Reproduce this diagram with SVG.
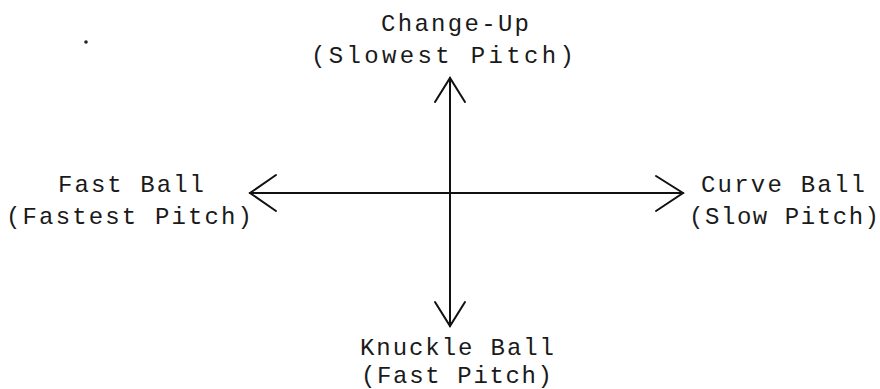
<svg xmlns="http://www.w3.org/2000/svg" width="880" height="389" viewBox="0 0 880 389">
<style>
.t{font-family:"Liberation Mono","DejaVu Sans Mono",monospace;font-size:24px;fill:#1a1a1a}
.ln{stroke:#111;stroke-width:2;fill:none;stroke-linecap:round;stroke-linejoin:miter}
</style>
<rect width="880" height="389" fill="#fff"/>
<g id="connectors">
<line class="ln" x1="450" y1="78" x2="450" y2="326"/>
<line class="ln" x1="250" y1="193" x2="683" y2="193"/>
<polyline class="ln" points="435,102 450,78 465,102"/>
<polyline class="ln" points="435,302 450,326 465,302"/>
<polyline class="ln" points="276,175 250,193 276,211"/>
<polyline class="ln" points="656,176 683,193 656,211"/>
</g>
<g id="change-up">
<text class="t" x="381" y="31" textLength="148" lengthAdjust="spacing">Change-Up</text>
<text class="t" x="311" y="63" textLength="263" lengthAdjust="spacing">(Slowest Pitch)</text>
</g>
<g id="fast-ball">
<text class="t" x="58" y="192" textLength="146" lengthAdjust="spacing">Fast Ball</text>
<text class="t" x="6" y="224" textLength="246" lengthAdjust="spacing">(Fastest Pitch)</text>
</g>
<g id="curve-ball">
<text class="t" x="701" y="192" textLength="164" lengthAdjust="spacing">Curve Ball</text>
<text class="t" x="689" y="224" textLength="190" lengthAdjust="spacing">(Slow Pitch)</text>
</g>
<g id="knuckle-ball">
<text class="t" x="360" y="355" textLength="194" lengthAdjust="spacing">Knuckle Ball</text>
<text class="t" x="361" y="383" textLength="191" lengthAdjust="spacing">(Fast Pitch)</text>
</g>
<circle cx="86" cy="42" r="1.8" fill="#222"/>
</svg>
